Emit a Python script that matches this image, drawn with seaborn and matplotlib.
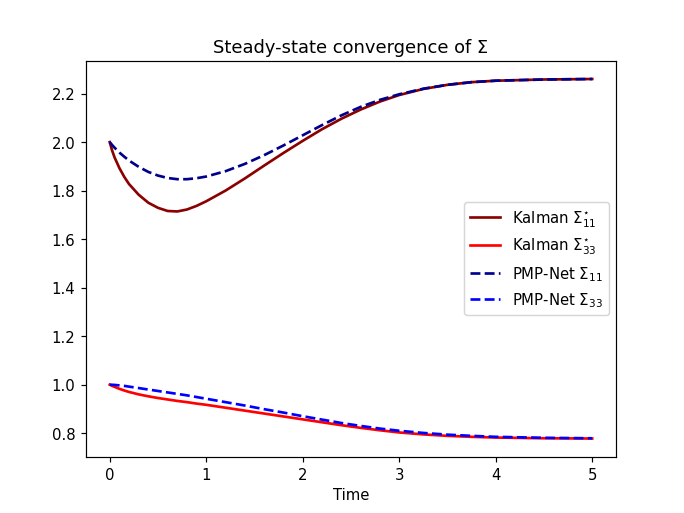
import numpy as np
import pandas as pd
import matplotlib
matplotlib.use('Agg')
import matplotlib.pyplot as plt
import seaborn as sns

# values
time = [0, 0.025, 0.05, 0.1, 0.15, 0.2, 0.3, 0.4, 0.5, 0.6, 0.7, 0.8, 0.9, 1.0,
        1.2, 1.4, 1.6, 1.8, 2.0, 2.2, 2.4, 2.6, 2.8, 3.0, 3.25, 3.5, 3.75, 4.0,
        4.5, 5.0]

kalman_11 = [2.0, 1.965, 1.937, 1.893, 1.857, 1.827, 1.783, 1.750, 1.729, 1.716,
             1.714, 1.722, 1.737, 1.756, 1.800, 1.850, 1.903, 1.955, 2.005, 2.053,
             2.096, 2.134, 2.167, 2.194, 2.219, 2.236, 2.247, 2.253, 2.258, 2.26]
kalman_33 = [1.0, 0.995, 0.991, 0.983, 0.976, 0.970, 0.960, 0.952, 0.945, 0.939,
             0.933, 0.928, 0.922, 0.917, 0.905, 0.893, 0.881, 0.869, 0.857, 0.845,
             0.833, 0.822, 0.812, 0.803, 0.795, 0.789, 0.785, 0.782, 0.779, 0.778]
pmp_11 = [2.0, 1.988, 1.977, 1.957, 1.940, 1.924, 1.898, 1.877, 1.862, 1.852,
          1.847, 1.847, 1.851, 1.858, 1.880, 1.910, 1.946, 1.986, 2.028, 2.070,
          2.110, 2.145, 2.174, 2.197, 2.220, 2.236, 2.247, 2.253, 2.258, 2.26]
pmp_33 = [1.0, 0.9995, 0.999, 0.997, 0.995, 0.992, 0.986, 0.980, 0.974, 0.968,
          0.962, 0.956, 0.949, 0.942, 0.928, 0.914, 0.899, 0.885, 0.870, 0.856,
          0.842, 0.830, 0.819, 0.810, 0.801, 0.794, 0.789, 0.785, 0.781, 0.779]

df = pd.DataFrame({'Time': time, 'k11': kalman_11, 'k33': kalman_33,
                   'p11': pmp_11, 'p33': pmp_33})

fig, ax = plt.subplots(figsize=(6.4, 4.8), dpi=107)

sns.lineplot(data=df, x='Time', y='k11', color='darkred', lw=1.8,
             label=r'Kalman $\Sigma^{\star}_{11}$', ax=ax)
sns.lineplot(data=df, x='Time', y='k33', color='red', lw=1.8,
             label=r'Kalman $\Sigma^{\star}_{33}$', ax=ax)
sns.lineplot(data=df, x='Time', y='p11', color='darkblue', lw=1.8, linestyle='--',
             label=r'PMP-Net $\Sigma_{11}$', ax=ax)
sns.lineplot(data=df, x='Time', y='p33', color='blue', lw=1.8, linestyle='--',
             label=r'PMP-Net $\Sigma_{33}$', ax=ax)

ax.set_title('Steady-state convergence of Σ')
ax.set_xlabel('Time')
ax.set_ylabel('')
ax.legend(loc='center right')

fig.savefig('out.png', dpi=107)
